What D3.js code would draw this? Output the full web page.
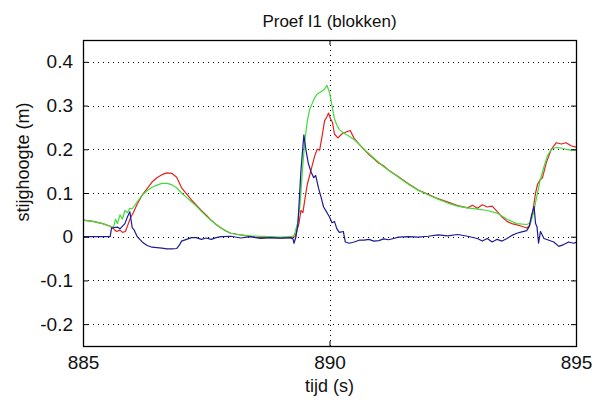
<!DOCTYPE html>
<html><head><meta charset="utf-8">
<script src="https://cdn.jsdelivr.net/npm/d3@7"></script>
<style>body{margin:0;background:#fff}svg{display:block}text{font-family:"Liberation Sans",Arial,sans-serif;fill:#111}</style>
</head><body><svg id="c" width="596" height="406"></svg>
<script>
const title = "Proef I1 (blokken)";
const xLabel = "tijd (s)";
const yLabel = "stijghoogte (m)";
const xTicks = [885, 890, 895];
const yTicks = [-0.2, -0.1, 0, 0.1, 0.2, 0.3, 0.4];
const xDomain = [885, 895];
const yDomain = [-0.25, 0.45];

const tRed = [885.00,885.20,885.40,885.55,885.62,885.68,885.75,885.80,885.86,885.92,885.97,886.02,886.10,886.20,886.30,886.40,886.50,886.60,886.70,886.80,886.90,887.00,887.10,887.20,887.30,887.40,887.50,887.60,887.70,887.80,887.90,888.00,888.20,888.40,888.60,888.80,889.00,889.20,889.30,889.38,889.42,889.46,889.50,889.55,889.62,889.70,889.75,889.80,889.85,889.90,889.95,889.98,890.02,890.06,890.10,890.17,890.25,890.35,890.42,890.50,890.60,890.70,890.80,890.90,891.00,891.10,891.20,891.40,891.60,891.80,892.00,892.20,892.40,892.60,892.80,892.90,893.00,893.10,893.20,893.30,893.40,893.50,893.60,893.70,893.80,893.90,894.00,894.06,894.12,894.18,894.22,894.27,894.32,894.40,894.50,894.60,894.70,894.80,894.90,895.00];
const vRed = [0.038,0.035,0.030,0.024,0.018,0.012,0.015,0.010,0.012,0.030,0.045,0.055,0.075,0.095,0.110,0.125,0.135,0.142,0.146,0.145,0.136,0.112,0.098,0.084,0.072,0.060,0.049,0.038,0.028,0.020,0.013,0.008,0.004,0.000,-0.002,-0.002,-0.003,-0.002,0.000,0.030,0.060,0.055,0.085,0.120,0.150,0.185,0.200,0.198,0.230,0.265,0.275,0.283,0.270,0.262,0.235,0.226,0.235,0.240,0.243,0.225,0.212,0.200,0.188,0.178,0.168,0.162,0.152,0.137,0.121,0.107,0.097,0.087,0.079,0.071,0.066,0.072,0.065,0.073,0.068,0.070,0.058,0.045,0.035,0.030,0.027,0.024,0.020,0.025,0.055,0.100,0.120,0.130,0.135,0.170,0.200,0.215,0.212,0.215,0.208,0.205];

const tGreen = [885.00,885.20,885.40,885.55,885.62,885.66,885.70,885.75,885.80,885.85,885.90,885.95,886.00,886.10,886.20,886.30,886.40,886.50,886.60,886.70,886.80,886.90,887.00,887.10,887.20,887.30,887.40,887.50,887.60,887.70,887.80,887.90,888.00,888.20,888.40,888.60,888.80,889.00,889.20,889.28,889.35,889.40,889.45,889.50,889.55,889.60,889.65,889.70,889.75,889.80,889.85,889.90,889.95,890.00,890.05,890.10,890.15,890.20,890.30,890.40,890.50,890.60,890.70,890.80,890.90,891.00,891.10,891.20,891.40,891.60,891.80,892.00,892.20,892.40,892.60,892.80,893.00,893.20,893.40,893.60,893.80,894.00,894.08,894.14,894.20,894.27,894.35,894.42,894.50,894.60,894.70,894.80,894.90,895.00];
const vGreen = [0.038,0.035,0.030,0.024,0.022,0.040,0.030,0.050,0.040,0.060,0.055,0.065,0.064,0.080,0.095,0.105,0.113,0.118,0.122,0.122,0.119,0.112,0.100,0.090,0.080,0.070,0.058,0.047,0.037,0.028,0.020,0.013,0.008,0.004,0.002,0.001,0.000,-0.001,0.000,0.002,0.030,0.070,0.150,0.220,0.265,0.292,0.305,0.318,0.326,0.330,0.333,0.338,0.346,0.330,0.300,0.270,0.255,0.245,0.236,0.230,0.222,0.212,0.200,0.190,0.180,0.170,0.160,0.152,0.136,0.120,0.106,0.096,0.086,0.077,0.070,0.066,0.063,0.060,0.054,0.040,0.030,0.028,0.032,0.055,0.090,0.128,0.160,0.185,0.200,0.204,0.203,0.200,0.198,0.198];

const tBlue = [885.00,885.55,885.58,885.70,885.75,885.85,885.90,885.95,886.00,886.04,886.10,886.20,886.30,886.40,886.50,886.60,886.70,886.80,886.90,886.95,887.00,887.10,887.20,887.30,887.40,887.50,887.60,887.70,887.80,888.00,888.20,888.40,888.60,888.80,889.00,889.20,889.26,889.28,889.32,889.36,889.42,889.48,889.52,889.57,889.62,889.68,889.72,889.78,889.83,889.88,889.95,890.00,890.05,890.10,890.15,890.20,890.28,890.32,890.40,890.50,890.60,890.70,890.80,890.90,891.00,891.10,891.20,891.30,891.40,891.60,891.80,892.00,892.20,892.40,892.60,892.80,893.00,893.10,893.20,893.30,893.40,893.50,893.60,893.70,893.80,893.90,894.00,894.05,894.10,894.15,894.18,894.21,894.24,894.28,894.35,894.45,894.55,894.65,894.75,894.85,894.95,895.00];
const vBlue = [0.000,0.000,0.020,0.022,0.018,0.030,0.045,0.057,0.020,0.015,0.000,-0.012,-0.020,-0.024,-0.025,-0.026,-0.028,-0.028,-0.027,-0.020,-0.010,-0.006,-0.002,-0.002,-0.006,-0.003,-0.006,-0.002,0.000,0.001,-0.003,0.000,-0.004,-0.002,-0.003,-0.002,-0.005,-0.015,0.000,0.030,0.150,0.233,0.200,0.168,0.150,0.135,0.140,0.110,0.090,0.068,0.055,0.045,0.032,0.035,0.018,0.010,0.012,-0.012,-0.015,-0.012,-0.008,-0.008,-0.006,-0.010,-0.009,-0.005,-0.007,-0.004,-0.001,0.000,-0.001,0.001,0.004,0.002,0.005,0.001,-0.004,-0.010,-0.004,-0.012,-0.006,-0.010,-0.004,0.003,0.008,0.011,0.014,0.023,0.050,0.069,0.030,0.022,-0.015,0.012,-0.004,-0.008,-0.012,-0.022,-0.018,-0.012,-0.015,-0.013];

const svg = d3.select("#c");
const L = 83, R = 576, T = 40, B = 346;
const x = d3.scaleLinear().domain(xDomain).range([L, R]);
const y = d3.scaleLinear().domain(yDomain).range([B, T]);

// grid
const grid = svg.append("g").attr("stroke", "#000").attr("stroke-width", 1).attr("stroke-dasharray", "1,4");
grid.selectAll("line.h").data(yTicks).enter().append("line")
  .attr("x1", L).attr("x2", R).attr("y1", d => Math.round(y(d)) + 0.5).attr("y2", d => Math.round(y(d)) + 0.5);
grid.selectAll("line.v").data(xTicks.slice(1, -1)).enter().append("line")
  .attr("y1", T).attr("y2", B).attr("x1", d => Math.round(x(d)) + 0.5).attr("x2", d => Math.round(x(d)) + 0.5);

// lines
const series = [[tRed, vRed, "#e3221c"], [tGreen, vGreen, "#3ede3a"], [tBlue, vBlue, "#1c1c96"]];
const line = d3.line().x(d => x(d[0])).y(d => y(d[1]));
series.forEach(([t, v, c]) => {
  svg.append("path").datum(t.map((ti, i) => [ti, v[i]]))
    .attr("d", line).attr("fill", "none").attr("stroke", c).attr("stroke-width", 1.2).attr("stroke-linejoin", "round");
});

const fmtY = d => d === 0 ? "0" : d.toFixed(1);

// axes (ticks inside)
svg.append("g").attr("transform", `translate(0,${B})`).call(d3.axisBottom(x).tickValues(xTicks).tickSizeInner(-5).tickSizeOuter(0).tickPadding(10).tickFormat(d3.format("d")))
  .call(g => { g.select(".domain").remove(); g.selectAll("line").attr("stroke", "#000"); g.selectAll("text").attr("font-size", 19).attr("font-family", "Liberation Sans").attr("fill", "#111"); });
svg.append("g").attr("transform", `translate(0,${T})`).call(d3.axisTop(x).tickValues(xTicks).tickSizeInner(-5).tickSizeOuter(0).tickFormat(""))
  .call(g => { g.select(".domain").remove(); g.selectAll("line").attr("stroke", "#000"); });
svg.append("g").attr("transform", `translate(${L},0)`).call(d3.axisLeft(y).tickValues(yTicks).tickSizeInner(-5).tickSizeOuter(0).tickPadding(10).tickFormat(fmtY))
  .call(g => { g.select(".domain").remove(); g.selectAll("line").attr("stroke", "#000"); g.selectAll("text").attr("font-size", 19).attr("font-family", "Liberation Sans").attr("fill", "#111"); });
svg.append("g").attr("transform", `translate(${R},0)`).call(d3.axisRight(y).tickValues(yTicks).tickSizeInner(-5).tickSizeOuter(0).tickFormat(""))
  .call(g => { g.select(".domain").remove(); g.selectAll("line").attr("stroke", "#000"); });

svg.append("rect").attr("x", L + 0.5).attr("y", T + 0.5).attr("width", R - L).attr("height", B - T)
  .attr("fill", "none").attr("stroke", "#000").attr("stroke-width", 1.3);

svg.append("text").attr("x", (L + R) / 2).attr("y", 27).attr("text-anchor", "middle").attr("font-size", 17).text(title);
svg.append("text").attr("x", (L + R) / 2).attr("y", 392).attr("text-anchor", "middle").attr("font-size", 18).text(xLabel);
svg.append("text").attr("transform", "translate(29,162) rotate(-90)").attr("text-anchor", "middle").attr("font-size", 18).text(yLabel);
</script></body></html>
